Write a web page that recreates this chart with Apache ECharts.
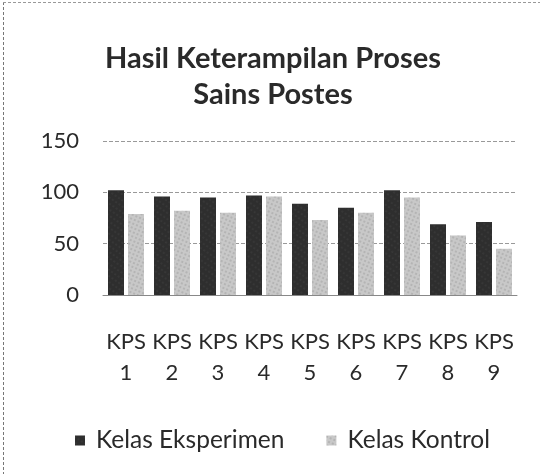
<!DOCTYPE html>
<html>
<head>
<meta charset="utf-8">
<script src="https://cdn.jsdelivr.net/npm/echarts@6/dist/echarts.min.js"></script>
<style>
  html, body { margin: 0; padding: 0; background: #fff; }
  #chart { position: absolute; left: 3px; top: 2px; width: 537px; height: 472px;
           border-left: 1px dashed #777; border-top: 1px dashed #999; }
</style>
</head>
<body>
<div id="chart"></div>
<script>
const categories = ["KPS\n1", "KPS\n2", "KPS\n3", "KPS\n4", "KPS\n5", "KPS\n6", "KPS\n7", "KPS\n8", "KPS\n9"];
const eksperimen = [102, 96, 95, 97, 89, 85, 102, 69, 71];
const kontrol = [79, 82, 80, 96, 73, 80, 95, 58, 45];
const yTicks = [0, 50, 100, 150];

const font = "Lato, 'Open Sans', sans-serif";
const chart = echarts.init(document.getElementById("chart"));

chart.setOption({
  animation: false,
  aria: { enabled: true, decal: { show: true } },
  textStyle: { fontFamily: font },
  title: {
    text: "Hasil Keterampilan Proses\nSains Postes",
    left: 264,
    textAlign: "center",
    top: 33,
    textStyle: { fontSize: 29, fontWeight: "bold", color: "#2a2a2a", lineHeight: 36, fontFamily: font }
  },
  legend: {
    left: 66,
    top: 420,
    itemWidth: 10,
    itemHeight: 10,
    itemGap: 42,
    textStyle: { fontSize: 24.5, color: "#2a2a2a", padding: [0, 0, 0, 6], fontFamily: font },
    data: [
      { name: "Kelas Eksperimen", icon: "rect" },
      { name: "Kelas Kontrol", icon: "rect" }
    ]
  },
  grid: { left: 99, right: 24, top: 138, bottom: 180 },
  xAxis: {
    type: "category",
    data: categories,
    axisLine: { lineStyle: { color: "#888" } },
    axisTick: { show: false },
    axisLabel: { interval: 0, fontSize: 22, color: "#2a2a2a", lineHeight: 31, margin: 31, fontFamily: font }
  },
  yAxis: {
    type: "value",
    min: yTicks[0],
    max: yTicks[yTicks.length - 1],
    interval: 50,
    axisLine: { show: false },
    axisTick: { show: false },
    axisLabel: { fontSize: 22, color: "#2a2a2a", margin: 24, fontFamily: font },
    splitLine: { lineStyle: { color: "#999", type: "dashed", width: 1 } }
  },
  series: [
    {
      name: "Kelas Eksperimen",
      type: "bar",
      data: eksperimen,
      barWidth: 16,
      barGap: "25%",
      itemStyle: {
        color: "#2e2e2e",
        decal: { symbol: "circle", symbolSize: 0.6, color: "rgba(110,110,110,0.6)", dashArrayX: [2, 2], dashArrayY: [2, 3], rotation: 0.6 }
      }
    },
    {
      name: "Kelas Kontrol",
      type: "bar",
      data: kontrol,
      barWidth: 16,
      itemStyle: {
        color: "#c8c8c8",
        decal: { symbol: "circle", symbolSize: 0.7, color: "rgba(100,100,100,0.55)", dashArrayX: [2, 2], dashArrayY: [2, 2], rotation: 0.4 }
      }
    }
  ]
});
</script>
</body>
</html>
